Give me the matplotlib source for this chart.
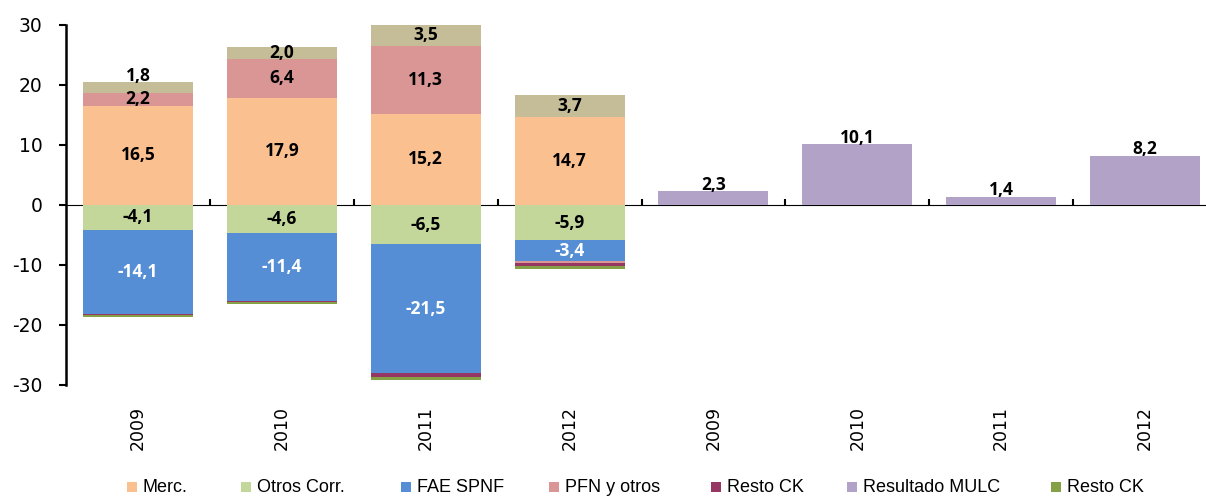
import matplotlib
matplotlib.use("Agg")
import matplotlib.pyplot as plt
import numpy as np

categories = ["2009", "2010", "2011", "2012", "2009", "2010", "2011", "2012"]
merc = [16.5, 17.9, 15.2, 14.7, 0, 0, 0, 0]
pfn = [2.2, 6.4, 11.3, -0.3, 0, 0, 0, 0]
otros_pos = [1.8, 2.0, 3.5, 3.7, 0, 0, 0, 0]
otros_corr = [-4.1, -4.6, -6.5, -5.9, 0, 0, 0, 0]
fae = [-14.1, -11.4, -21.5, -3.4, 0, 0, 0, 0]
resto_ck1 = [-0.2, -0.15, -0.6, -0.5, 0, 0, 0, 0]
resto_ck2 = [-0.3, -0.3, -0.5, -0.5, 0, 0, 0, 0]
mulc = [0, 0, 0, 0, 2.3, 10.1, 1.4, 8.2]

legend_labels = ["Merc.", "Otros Corr.", "FAE SPNF", "PFN y otros",
                 "Resto CK", "Resultado MULC", "Resto CK"]

c_merc = "#FAC090"
c_otros = "#C4D79B"
c_fae = "#558ED5"
c_pfn = "#D99694"
c_rck1 = "#953762"
c_mulc = "#B3A2C7"
c_rck2 = "#86A046"
c_tan = "#C4BD97"

plt.rcParams['font.family'] = ['DejaVu Sans']
plt.rcParams['axes.unicode_minus'] = False
W, H = 1206, 497
fig = plt.figure(figsize=(W/100, H/100), dpi=100)
ax = fig.add_axes([66/W, 1-385/H, 1151/W, 360/H])

x = np.arange(len(categories))
w = 0.765

def fmt(v):
    return f"{v:.1f}".replace(".", ",")

label_font = dict(fontsize=12.5, fontweight="bold", family="Open Sans")

pos_b = np.zeros(len(x))
neg_b = np.zeros(len(x))
series = [
    (merc, c_merc, True, "black", 0),
    (otros_corr, c_otros, True, "black", 0),
    (fae, c_fae, True, "white", 0),
    (pfn, c_pfn, True, "black", 0),
    (resto_ck1, c_rck1, False, "black", 0),
    (mulc, c_mulc, False, "black", 0),
    (resto_ck2, c_rck2, False, "black", 0),
    (otros_pos, c_tan, True, "black", 1),
]
colors_legend = [c_merc, c_otros, c_fae, c_pfn, c_rck1, c_mulc, c_rck2]
for idx, (vals, col, lbl, tcol, shift) in enumerate(series):
    vals = np.array(vals, dtype=float)
    bottoms = np.where(vals >= 0, pos_b, neg_b)
    ax.bar(x, vals, w, bottom=bottoms, color=col, linewidth=0)
    if lbl:
        for i, (xi, v, bt) in enumerate(zip(x, vals, bottoms)):
            if abs(v) >= 1.0:
                yy = bt + v/2
                if shift and i == 0:
                    yy += 1.9
                ax.text(xi, yy, fmt(v), ha="center", va="center",
                        color=tcol, **label_font)
    pos_b = pos_b + np.where(vals >= 0, vals, 0)
    neg_b = neg_b + np.where(vals < 0, vals, 0)

for xi, v in zip(x, mulc):
    if v != 0:
        ax.text(xi, v + 0.25, fmt(v), ha="center", va="baseline",
                color="black", **label_font)

ax.set_xlim(-0.5, len(x) - 0.5)
ax.set_ylim(-30, 30)
ax.set_yticks(np.arange(-30, 31, 10))
ax.tick_params(axis="y", labelsize=13.5, length=5, width=1.5,
               direction="out", pad=12)
ax.set_xticks(x)
ax.set_xticklabels(categories, rotation=90, fontsize=12.5)
ax.tick_params(axis="x", length=0, pad=15)
for s in ["top", "right", "bottom"]:
    ax.spines[s].set_visible(False)
ax.spines["left"].set_linewidth(1.8)

# zero axis line with tick marks at category boundaries
sec = ax.secondary_xaxis(0.5)
sec.set_xticks(np.arange(0.5, len(x) - 0.5, 1.0))
sec.set_xticklabels([])
sec.tick_params(axis="x", length=4, width=1.5, direction="out")
sec.spines["bottom"].set_linewidth(1.8)

# legend drawn manually
leg_x = [127, 241, 401, 549, 711, 847, 1051]
leg_base = 492
for lx, lab, col in zip(leg_x, legend_labels, colors_legend):
    fig.patches.append(plt.Rectangle((lx/W, 1-(leg_base)/H), 10/W, 10/H,
                                     transform=fig.transFigure, color=col,
                                     linewidth=0))
    fig.text((lx+16)/W, 1-leg_base/H, lab, ha="left", va="baseline",
             family="Liberation Sans", fontsize=13)

fig.savefig("out.png", dpi=100)
